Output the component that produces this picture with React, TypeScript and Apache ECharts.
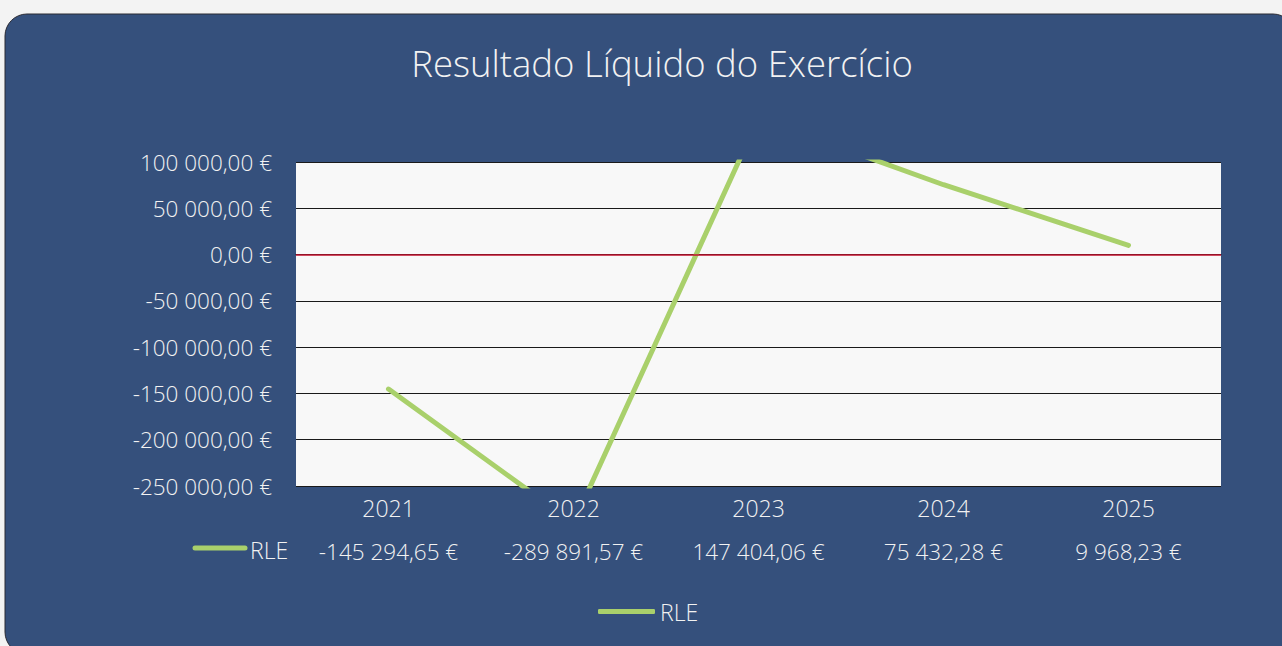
import React, { useEffect, useRef } from "react";
import * as echarts from "echarts";

const categories = ["2021", "2022", "2023", "2024", "2025"];
const rleValues = [-145294.65, -289891.57, 147404.06, 75432.28, 9968.23];
const seriesName = "RLE";
const titleText = "Resultado Líquido do Exercício";

const FONT = "'Open Sans', 'Noto Sans', sans-serif";
const NAVY = "#35507c";
const GREEN = "#a9d06b";
const TEXT = "#f2f2f2";

function fmtEuro(v: number): string {
  const neg = v < 0;
  const [intPart, dec] = Math.abs(v).toFixed(2).split(".");
  const grouped = intPart.replace(/\B(?=(\d{3})+(?!\d))/g, " ");
  return (neg ? "-" : "") + grouped + "," + dec + " €";
}

export default function App() {
  const ref = useRef<HTMLDivElement>(null);
  useEffect(() => {
    document.body.style.margin = "0";
    const chart = echarts.init(ref.current!, null, { renderer: "svg" });
    chart.setOption({
      animation: false,
      backgroundColor: "#f3f3f3",
      textStyle: { fontFamily: FONT, fontWeight: 300 },
      graphic: [
        {
          type: "rect",
          z: -10,
          shape: { x: 5, y: 14, width: 1290, height: 640, r: 22 },
          style: { fill: NAVY, stroke: "#2a2a33", lineWidth: 1 },
        },
        {
          type: "line",
          shape: { x1: 195, y1: 548, x2: 245, y2: 548 },
          style: { stroke: GREEN, lineWidth: 5, lineCap: "round" },
        },
        {
          type: "text",
          x: 250,
          y: 550,
          style: {
            text: seriesName,
            fill: TEXT,
            fontSize: 23,
            fontWeight: 300,
            fontFamily: FONT,
            verticalAlign: "middle",
            align: "left",
          },
        },
        {
          type: "text",
          x: 662,
          y: 63,
          style: {
            text: titleText,
            fill: TEXT,
            fontSize: 36.5,
            fontWeight: 300,
            fontFamily: FONT,
            verticalAlign: "middle",
            align: "center",
          },
        },
      ],
      legend: {
        left: 598,
        top: 600,
        padding: 0,
        itemWidth: 57,
        itemHeight: 5,
        icon: "roundRect",
        itemGap: 10,
        textStyle: { color: TEXT, fontSize: 23, fontWeight: 300, fontFamily: FONT },
        data: [seriesName],
      },
      grid: {
        left: 296,
        top: 162,
        right: 61,
        bottom: 160,
        show: true,
        backgroundColor: "#f8f8f8",
        borderWidth: 0,
      },
      xAxis: [
        {
          type: "category",
          data: categories,
          boundaryGap: true,
          axisLine: { show: true, lineStyle: { color: "#1a1a1a", width: 1 } },
          axisTick: { show: false },
          axisLabel: {
            interval: 0,
            hideOverlap: false,
            color: TEXT,
            fontSize: 23,
            fontWeight: 300,
            margin: 10,
            fontFamily: FONT,
          },
        },
        {
          type: "category",
          data: categories,
          position: "bottom",
          offset: 44,
          boundaryGap: true,
          axisLine: { show: false },
          axisTick: { show: false },
          axisLabel: {
            interval: 0,
            hideOverlap: false,
            color: TEXT,
            fontSize: 22.5,
            fontWeight: 300,
            margin: 10,
            fontFamily: FONT,
            formatter: (_v: string, i: number) => fmtEuro(rleValues[i]),
          },
        },
      ],
      yAxis: {
        type: "value",
        min: -250000,
        max: 100000,
        interval: 50000,
        axisLine: { show: false },
        axisTick: { show: false },
        axisLabel: {
          color: TEXT,
          fontSize: 22.5,
          fontWeight: 300,
          margin: 24,
          fontFamily: FONT,
          formatter: (v: number) => fmtEuro(v),
        },
        splitLine: { show: true, lineStyle: { color: "#1a1a1a", width: 1 } },
      },
      series: [
        {
          name: seriesName,
          type: "line",
          data: rleValues,
          symbol: "none",
          clip: true,
          lineStyle: { color: GREEN, width: 5, cap: "round" },
          itemStyle: { color: GREEN },
          markLine: {
            silent: true,
            symbol: "none",
            label: { show: false },
            lineStyle: { color: "#c0102c", width: 1.5, type: "solid" },
            data: [{ yAxis: 0 }],
          },
        },
      ],
    });
    return () => chart.dispose();
  }, []);
  return <div ref={ref} style={{ width: 1282, height: 646 }} />;
}
